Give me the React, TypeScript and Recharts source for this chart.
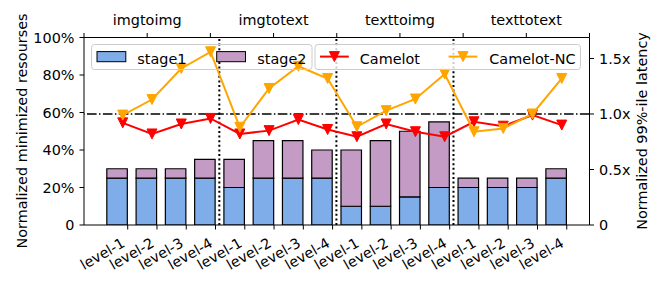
import React from 'react';
import { ComposedChart, Bar, Line, XAxis, YAxis, ReferenceLine } from 'recharts';

// ---------- data ----------
const groups = ['imgtoimg', 'imgtotext', 'texttoimg', 'texttotext'];
const levels = ['level-1', 'level-2', 'level-3', 'level-4'];
const stage1 = [0.25, 0.25, 0.25, 0.25, 0.2, 0.25, 0.25, 0.25, 0.1, 0.1, 0.15, 0.2, 0.2, 0.2, 0.2, 0.25];
const stage2 = [0.05, 0.05, 0.05, 0.1, 0.15, 0.2, 0.2, 0.15, 0.3, 0.35, 0.35, 0.35, 0.05, 0.05, 0.05, 0.05];
const camelot = [0.92, 0.82, 0.91, 0.96, 0.82, 0.85, 0.95, 0.86, 0.795, 0.91, 0.84, 0.795, 0.93, 0.89, 0.99, 0.9];
const camelotNC = [0.99, 1.13, 1.41, 1.56, 0.88, 1.23, 1.43, 1.32, 0.885, 1.03, 1.135, 1.36, 0.84, 0.87, 1.0, 1.32];
const leftTicks = [0, 0.2, 0.4, 0.6, 0.8, 1.0];
const rightTicks = [0, 0.5, 1.0, 1.5];
const latencyBaseline = 1.0;
const seriesNames = ['stage1', 'stage2', 'Camelot', 'Camelot-NC'];
const leftTitle = 'Normalized minimized resourses';
const rightTitle = 'Normalized 99%-ile latency';

// ---------- style ----------
const FONT = '"DejaVu Sans", sans-serif';
const FS = 14.4;
const C_STAGE1 = '#7FADE9';
const C_STAGE2 = '#C49BC4';
const C_CAMELOT = '#FF0000';
const C_NC = '#FFA500';

const BAR_SHIFT = -0.35;
const LINE_SHIFT = -0.17;
const X_DOMAIN: [number, number] = [-1.493, 15.777];
const LEFT_DOMAIN: [number, number] = [0, 1.0];
const RIGHT_DOMAIN: [number, number] = [0, 1.689];

const tickLabels = groups.flatMap(() => levels);
const rows = stage1.map((s, i) => ({
  xt: i,
  xb: i + BAR_SHIFT,
  xl: i + LINE_SHIFT,
  stage1: s,
  stage2: stage2[i],
  camelot: camelot[i],
  camelotNC: camelotNC[i],
}));
const bottomTicks = rows.map((r) => r.xt);
const topTicks = Array.from({ length: groups.length * 2 + 1 }, (_, k) => k);
const separators = groups.slice(1).map((_, g) => (g + 1) * levels.length - 0.87);

const tri = (cx: number, cy: number, s: number) =>
  `${cx - s},${cy - s} ${cx + s},${cy - s} ${cx},${cy + s}`;

const makeDot = (color: string) => (p: any) => {
  if (p.cx == null || p.cy == null) return <g key={`e-${p.index}`} />;
  return (
    <polygon
      key={`d-${color}-${p.index}`}
      points={tri(p.cx, p.cy, 5)}
      fill={color}
      stroke={color}
      strokeWidth={1}
    />
  );
};

const BottomTick = (props: any) => {
  const { x, y, payload } = props;
  const bx = x - 1.7;
  const by = y + 14.5;
  return (
    <text
      x={bx}
      y={by}
      transform={`rotate(-30 ${bx} ${by})`}
      textAnchor="end"
      fontFamily={FONT}
      fontSize={FS}
      fill="#000"
    >
      {tickLabels[Math.round(payload.value)]}
    </text>
  );
};

const TopTick = (props: any) => {
  const { x, y, payload } = props;
  const k = Math.round(payload.value);
  const label = k % 2 === 1 ? groups[(k - 1) / 2] : '';
  return (
    <text x={x} y={y - 6.5} textAnchor="middle" fontFamily={FONT} fontSize={FS} fill="#000">
      {label}
    </text>
  );
};

const VTitle = (props: any) => {
  const { tx, ty, text } = props;
  return (
    <text
      x={tx}
      y={ty}
      transform={`rotate(-90 ${tx} ${ty})`}
      textAnchor="middle"
      fontFamily={FONT}
      fontSize={FS}
      fill="#000"
    >
      {text}
    </text>
  );
};

const tickStyle = { fill: '#000', fontFamily: FONT, fontSize: FS };

const Legends = () => (
  <svg
    width={664}
    height={285}
    style={{ position: 'absolute', left: 0, top: 0, pointerEvents: 'none' }}
  >
    {/* bars legend */}
    <rect x={91.5} y={44.5} width={220.5} height={25} rx={3} fill="none" stroke="#cccccc" strokeWidth={1} />
    <rect x={97} y={51.6} width={28.8} height={10.1} fill={C_STAGE1} stroke="#000" strokeWidth={1} />
    <text x={137.3} y={63.5} fontFamily={FONT} fontSize={FS} fill="#000">{seriesNames[0]}</text>
    <rect x={216.7} y={51.6} width={28.8} height={10.1} fill={C_STAGE2} stroke="#000" strokeWidth={1} />
    <text x={257.3} y={63.5} fontFamily={FONT} fontSize={FS} fill="#000">{seriesNames[1]}</text>
    {/* lines legend */}
    <rect x={315} y={44.5} width={265.5} height={25} rx={3} fill="#ffffff" fillOpacity={0.8} stroke="#cccccc" strokeWidth={1} />
    <line x1={320} y1={56.6} x2={348.8} y2={56.6} stroke={C_CAMELOT} strokeWidth={2} />
    <polygon points={tri(334.4, 56.6, 5)} fill={C_CAMELOT} stroke={C_CAMELOT} />
    <text x={359.8} y={63.5} fontFamily={FONT} fontSize={FS} fill="#000">{seriesNames[2]}</text>
    <line x1={448.6} y1={56.6} x2={477.4} y2={56.6} stroke={C_NC} strokeWidth={2} />
    <polygon points={tri(463, 56.6, 5)} fill={C_NC} stroke={C_NC} />
    <text x={489.3} y={63.5} fontFamily={FONT} fontSize={FS} fill="#000">{seriesNames[3]}</text>
  </svg>
);

export default function App() {
  return (
    <div style={{ position: 'absolute', left: 0, top: 0, width: 664, height: 285, background: '#fff' }}>
      <ComposedChart
        width={664}
        height={285}
        data={rows}
        margin={{ top: 7.5, right: 34.5, bottom: 20, left: 24 }}
      >
        <XAxis xAxisId="bar" dataKey="xb" type="number" domain={X_DOMAIN} allowDataOverflow hide height={0} />
        <XAxis xAxisId="line" dataKey="xl" type="number" domain={X_DOMAIN} allowDataOverflow hide height={0} />
        <XAxis
          xAxisId="tick"
          dataKey="xt"
          type="number"
          domain={X_DOMAIN}
          allowDataOverflow
          ticks={bottomTicks}
          interval={0}
          height={40}
          tickSize={4.5}
          tickMargin={2}
          axisLine={{ stroke: '#000', strokeWidth: 1 }}
          tickLine={{ stroke: '#000', strokeWidth: 1 }}
          tick={<BottomTick />}
        />
        <XAxis
          xAxisId="top"
          orientation="top"
          dataKey="xt"
          type="number"
          domain={[0, groups.length * 2]}
          allowDataOverflow
          ticks={topTicks}
          interval={0}
          height={30}
          tickSize={4.5}
          tickMargin={2}
          axisLine={{ stroke: '#000', strokeWidth: 1 }}
          tickLine={{ stroke: '#000', strokeWidth: 1 }}
          tick={<TopTick />}
        />
        <YAxis
          yAxisId="left"
          domain={LEFT_DOMAIN}
          allowDataOverflow
          ticks={leftTicks}
          interval={0}
          width={60}
          tickSize={4.5}
          tickMargin={5}
          axisLine={{ stroke: '#000', strokeWidth: 1 }}
          tickLine={{ stroke: '#000', strokeWidth: 1 }}
          tick={tickStyle}
          tickFormatter={(v: number) => (v === 0 ? '0' : `${Math.round(v * 100)}%`)}
          label={<VTitle tx={26.5} ty={131} text={leftTitle} />}
        />
        <YAxis
          yAxisId="right"
          orientation="right"
          domain={RIGHT_DOMAIN}
          allowDataOverflow
          ticks={rightTicks}
          interval={0}
          width={40}
          tickSize={4.5}
          tickMargin={5}
          axisLine={{ stroke: '#000', strokeWidth: 1 }}
          tickLine={{ stroke: '#000', strokeWidth: 1 }}
          tick={tickStyle}
          tickFormatter={(v: number) => (v === 0 ? '0' : `${v.toFixed(1)}x`)}
          label={<VTitle tx={647} ty={131} text={rightTitle} />}
        />
        <Bar
          xAxisId="bar"
          yAxisId="left"
          dataKey="stage1"
          stackId="s"
          barSize={20.5}
          fill={C_STAGE1}
          stroke="#000"
          strokeWidth={1.2}
          isAnimationActive={false}
        />
        <Bar
          xAxisId="bar"
          yAxisId="left"
          dataKey="stage2"
          stackId="s"
          barSize={20.5}
          fill={C_STAGE2}
          stroke="#000"
          strokeWidth={1.2}
          isAnimationActive={false}
        />
        {separators.map((s) => (
          <ReferenceLine
            key={`sep-${s}`}
            xAxisId="tick"
            yAxisId="left"
            x={s}
            stroke="#000"
            strokeWidth={2}
            strokeDasharray="2 2.6"
          />
        ))}
        <ReferenceLine
          xAxisId="tick"
          yAxisId="right"
          y={latencyBaseline}
          stroke="#000"
          strokeWidth={1.5}
          strokeDasharray="9.6 2.4 1.5 2.4"
        />
        <Line
          xAxisId="line"
          yAxisId="right"
          dataKey="camelot"
          stroke={C_CAMELOT}
          strokeWidth={2}
          dot={makeDot(C_CAMELOT)}
          activeDot={false}
          isAnimationActive={false}
        />
        <Line
          xAxisId="line"
          yAxisId="right"
          dataKey="camelotNC"
          stroke={C_NC}
          strokeWidth={2}
          dot={makeDot(C_NC)}
          activeDot={false}
          isAnimationActive={false}
        />
      </ComposedChart>
      <Legends />
    </div>
  );
}
